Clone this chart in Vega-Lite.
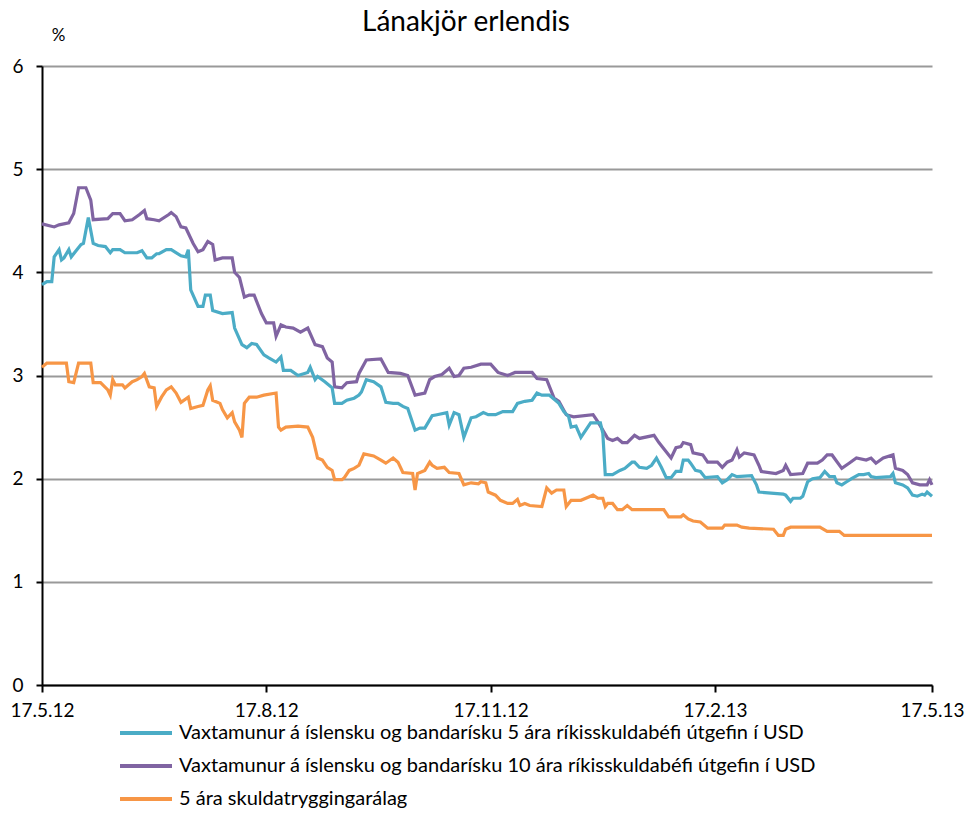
{
"$schema": "https://vega.github.io/schema/vega-lite/v6.json",
"width": 890, "height": 619,
"autosize": {"type": "none"},
"padding": {"left": 42, "top": 66, "right": 39, "bottom": 154},
"background": "white",
"config": {"font": "Lato", "view": {"stroke": null}},
"title": {"text": "Lánakjör erlendis", "fontSize": 28, "font": "Lato", "fontWeight": "normal", "color": "black", "anchor": "middle", "dx": -21, "offset": -11},
"data": {"values": [
{"d":"2012-05-17","s":"p","v":4.47},{"d":"2012-05-22","s":"p","v":4.44},{"d":"2012-05-24","s":"p","v":4.46},{"d":"2012-05-28","s":"p","v":4.48},{"d":"2012-05-30","s":"p","v":4.57},{"d":"2012-06-01","s":"p","v":4.82},{"d":"2012-06-04","s":"p","v":4.82},{"d":"2012-06-06","s":"p","v":4.70},{"d":"2012-06-07","s":"p","v":4.51},{"d":"2012-06-13","s":"p","v":4.52},{"d":"2012-06-15","s":"p","v":4.57},{"d":"2012-06-18","s":"p","v":4.57},{"d":"2012-06-20","s":"p","v":4.50},{"d":"2012-06-23","s":"p","v":4.51},{"d":"2012-06-26","s":"p","v":4.56},{"d":"2012-06-28","s":"p","v":4.60},{"d":"2012-06-29","s":"p","v":4.52},{"d":"2012-07-02","s":"p","v":4.51},{"d":"2012-07-04","s":"p","v":4.50},{"d":"2012-07-08","s":"p","v":4.56},{"d":"2012-07-09","s":"p","v":4.58},{"d":"2012-07-11","s":"p","v":4.54},{"d":"2012-07-13","s":"p","v":4.44},{"d":"2012-07-15","s":"p","v":4.43},{"d":"2012-07-18","s":"p","v":4.28},{"d":"2012-07-20","s":"p","v":4.20},{"d":"2012-07-22","s":"p","v":4.22},{"d":"2012-07-24","s":"p","v":4.30},{"d":"2012-07-26","s":"p","v":4.27},{"d":"2012-07-27","s":"p","v":4.12},{"d":"2012-07-30","s":"p","v":4.14},{"d":"2012-08-03","s":"p","v":4.14},{"d":"2012-08-04","s":"p","v":4.00},{"d":"2012-08-06","s":"p","v":3.95},{"d":"2012-08-08","s":"p","v":3.76},{"d":"2012-08-10","s":"p","v":3.78},{"d":"2012-08-12","s":"p","v":3.78},{"d":"2012-08-15","s":"p","v":3.60},{"d":"2012-08-17","s":"p","v":3.51},{"d":"2012-08-20","s":"p","v":3.51},{"d":"2012-08-21","s":"p","v":3.38},{"d":"2012-08-23","s":"p","v":3.49},{"d":"2012-08-25","s":"p","v":3.47},{"d":"2012-08-28","s":"p","v":3.46},{"d":"2012-08-31","s":"p","v":3.42},{"d":"2012-09-03","s":"p","v":3.46},{"d":"2012-09-06","s":"p","v":3.30},{"d":"2012-09-09","s":"p","v":3.28},{"d":"2012-09-11","s":"p","v":3.17},{"d":"2012-09-13","s":"p","v":3.13},{"d":"2012-09-14","s":"p","v":2.89},{"d":"2012-09-17","s":"p","v":2.88},{"d":"2012-09-19","s":"p","v":2.93},{"d":"2012-09-23","s":"p","v":2.94},{"d":"2012-09-24","s":"p","v":3.02},{"d":"2012-09-27","s":"p","v":3.15},{"d":"2012-10-03","s":"p","v":3.16},{"d":"2012-10-06","s":"p","v":3.03},{"d":"2012-10-11","s":"p","v":3.02},{"d":"2012-10-14","s":"p","v":3.00},{"d":"2012-10-17","s":"p","v":2.81},{"d":"2012-10-21","s":"p","v":2.83},{"d":"2012-10-23","s":"p","v":2.96},{"d":"2012-10-25","s":"p","v":2.99},{"d":"2012-10-28","s":"p","v":3.01},{"d":"2012-10-31","s":"p","v":3.07},{"d":"2012-11-02","s":"p","v":2.99},{"d":"2012-11-04","s":"p","v":3.00},{"d":"2012-11-06","s":"p","v":3.07},{"d":"2012-11-09","s":"p","v":3.08},{"d":"2012-11-13","s":"p","v":3.11},{"d":"2012-11-17","s":"p","v":3.11},{"d":"2012-11-20","s":"p","v":3.03},{"d":"2012-11-24","s":"p","v":3.00},{"d":"2012-11-27","s":"p","v":3.03},{"d":"2012-12-04","s":"p","v":3.03},{"d":"2012-12-06","s":"p","v":2.97},{"d":"2012-12-10","s":"p","v":2.96},{"d":"2012-12-13","s":"p","v":2.78},{"d":"2012-12-15","s":"p","v":2.75},{"d":"2012-12-18","s":"p","v":2.62},{"d":"2012-12-21","s":"p","v":2.60},{"d":"2012-12-29","s":"p","v":2.62},{"d":"2012-12-31","s":"p","v":2.55},{"d":"2013-01-04","s":"p","v":2.39},{"d":"2013-01-06","s":"p","v":2.37},{"d":"2013-01-08","s":"p","v":2.39},{"d":"2013-01-10","s":"p","v":2.35},{"d":"2013-01-12","s":"p","v":2.35},{"d":"2013-01-15","s":"p","v":2.42},{"d":"2013-01-17","s":"p","v":2.39},{"d":"2013-01-23","s":"p","v":2.42},{"d":"2013-01-25","s":"p","v":2.35},{"d":"2013-01-30","s":"p","v":2.20},{"d":"2013-02-01","s":"p","v":2.30},{"d":"2013-02-03","s":"p","v":2.31},{"d":"2013-02-04","s":"p","v":2.35},{"d":"2013-02-07","s":"p","v":2.33},{"d":"2013-02-08","s":"p","v":2.25},{"d":"2013-02-12","s":"p","v":2.23},{"d":"2013-02-14","s":"p","v":2.16},{"d":"2013-02-18","s":"p","v":2.16},{"d":"2013-02-20","s":"p","v":2.11},{"d":"2013-02-22","s":"p","v":2.16},{"d":"2013-02-24","s":"p","v":2.18},{"d":"2013-02-26","s":"p","v":2.28},{"d":"2013-02-27","s":"p","v":2.21},{"d":"2013-03-01","s":"p","v":2.25},{"d":"2013-03-05","s":"p","v":2.23},{"d":"2013-03-07","s":"p","v":2.13},{"d":"2013-03-08","s":"p","v":2.07},{"d":"2013-03-14","s":"p","v":2.05},{"d":"2013-03-17","s":"p","v":2.08},{"d":"2013-03-18","s":"p","v":2.13},{"d":"2013-03-20","s":"p","v":2.04},{"d":"2013-03-25","s":"p","v":2.05},{"d":"2013-03-27","s":"p","v":2.15},{"d":"2013-03-31","s":"p","v":2.15},{"d":"2013-04-02","s":"p","v":2.18},{"d":"2013-04-04","s":"p","v":2.23},{"d":"2013-04-06","s":"p","v":2.23},{"d":"2013-04-10","s":"p","v":2.10},{"d":"2013-04-13","s":"p","v":2.15},{"d":"2013-04-16","s":"p","v":2.20},{"d":"2013-04-20","s":"p","v":2.18},{"d":"2013-04-22","s":"p","v":2.20},{"d":"2013-04-24","s":"p","v":2.15},{"d":"2013-04-27","s":"p","v":2.20},{"d":"2013-05-01","s":"p","v":2.23},{"d":"2013-05-02","s":"p","v":2.10},{"d":"2013-05-05","s":"p","v":2.08},{"d":"2013-05-07","s":"p","v":2.04},{"d":"2013-05-09","s":"p","v":1.96},{"d":"2013-05-12","s":"p","v":1.94},{"d":"2013-05-15","s":"p","v":1.94},{"d":"2013-05-16","s":"p","v":1.99},{"d":"2013-05-17","s":"p","v":1.94},
{"d":"2012-05-17","s":"t","v":3.88},{"d":"2012-05-19","s":"t","v":3.91},{"d":"2012-05-21","s":"t","v":3.91},{"d":"2012-05-22","s":"t","v":4.15},{"d":"2012-05-24","s":"t","v":4.22},{"d":"2012-05-25","s":"t","v":4.12},{"d":"2012-05-26","s":"t","v":4.14},{"d":"2012-05-28","s":"t","v":4.22},{"d":"2012-05-29","s":"t","v":4.15},{"d":"2012-06-02","s":"t","v":4.27},{"d":"2012-06-03","s":"t","v":4.28},{"d":"2012-06-05","s":"t","v":4.53},{"d":"2012-06-07","s":"t","v":4.28},{"d":"2012-06-09","s":"t","v":4.26},{"d":"2012-06-12","s":"t","v":4.25},{"d":"2012-06-14","s":"t","v":4.19},{"d":"2012-06-15","s":"t","v":4.22},{"d":"2012-06-18","s":"t","v":4.22},{"d":"2012-06-20","s":"t","v":4.19},{"d":"2012-06-25","s":"t","v":4.19},{"d":"2012-06-27","s":"t","v":4.21},{"d":"2012-06-29","s":"t","v":4.14},{"d":"2012-07-01","s":"t","v":4.14},{"d":"2012-07-03","s":"t","v":4.18},{"d":"2012-07-04","s":"t","v":4.18},{"d":"2012-07-07","s":"t","v":4.22},{"d":"2012-07-09","s":"t","v":4.22},{"d":"2012-07-13","s":"t","v":4.16},{"d":"2012-07-15","s":"t","v":4.15},{"d":"2012-07-16","s":"t","v":4.22},{"d":"2012-07-17","s":"t","v":3.83},{"d":"2012-07-20","s":"t","v":3.67},{"d":"2012-07-22","s":"t","v":3.67},{"d":"2012-07-23","s":"t","v":3.78},{"d":"2012-07-25","s":"t","v":3.78},{"d":"2012-07-26","s":"t","v":3.63},{"d":"2012-07-30","s":"t","v":3.60},{"d":"2012-08-03","s":"t","v":3.61},{"d":"2012-08-04","s":"t","v":3.46},{"d":"2012-08-07","s":"t","v":3.30},{"d":"2012-08-09","s":"t","v":3.27},{"d":"2012-08-11","s":"t","v":3.31},{"d":"2012-08-13","s":"t","v":3.30},{"d":"2012-08-16","s":"t","v":3.20},{"d":"2012-08-18","s":"t","v":3.17},{"d":"2012-08-21","s":"t","v":3.13},{"d":"2012-08-23","s":"t","v":3.18},{"d":"2012-08-24","s":"t","v":3.05},{"d":"2012-08-27","s":"t","v":3.05},{"d":"2012-08-30","s":"t","v":3.00},{"d":"2012-09-03","s":"t","v":3.03},{"d":"2012-09-04","s":"t","v":3.08},{"d":"2012-09-06","s":"t","v":2.96},{"d":"2012-09-07","s":"t","v":2.99},{"d":"2012-09-10","s":"t","v":2.94},{"d":"2012-09-13","s":"t","v":2.88},{"d":"2012-09-14","s":"t","v":2.73},{"d":"2012-09-17","s":"t","v":2.73},{"d":"2012-09-19","s":"t","v":2.76},{"d":"2012-09-22","s":"t","v":2.78},{"d":"2012-09-24","s":"t","v":2.81},{"d":"2012-09-25","s":"t","v":2.84},{"d":"2012-09-27","s":"t","v":2.96},{"d":"2012-09-30","s":"t","v":2.94},{"d":"2012-10-03","s":"t","v":2.89},{"d":"2012-10-05","s":"t","v":2.74},{"d":"2012-10-08","s":"t","v":2.73},{"d":"2012-10-10","s":"t","v":2.73},{"d":"2012-10-12","s":"t","v":2.70},{"d":"2012-10-14","s":"t","v":2.68},{"d":"2012-10-17","s":"t","v":2.47},{"d":"2012-10-19","s":"t","v":2.49},{"d":"2012-10-21","s":"t","v":2.49},{"d":"2012-10-23","s":"t","v":2.57},{"d":"2012-10-24","s":"t","v":2.61},{"d":"2012-10-26","s":"t","v":2.62},{"d":"2012-10-30","s":"t","v":2.64},{"d":"2012-10-31","s":"t","v":2.52},{"d":"2012-11-02","s":"t","v":2.64},{"d":"2012-11-04","s":"t","v":2.62},{"d":"2012-11-06","s":"t","v":2.40},{"d":"2012-11-09","s":"t","v":2.59},{"d":"2012-11-11","s":"t","v":2.60},{"d":"2012-11-14","s":"t","v":2.64},{"d":"2012-11-16","s":"t","v":2.62},{"d":"2012-11-19","s":"t","v":2.62},{"d":"2012-11-22","s":"t","v":2.65},{"d":"2012-11-26","s":"t","v":2.65},{"d":"2012-11-28","s":"t","v":2.73},{"d":"2012-12-01","s":"t","v":2.75},{"d":"2012-12-04","s":"t","v":2.76},{"d":"2012-12-06","s":"t","v":2.83},{"d":"2012-12-08","s":"t","v":2.81},{"d":"2012-12-11","s":"t","v":2.81},{"d":"2012-12-15","s":"t","v":2.73},{"d":"2012-12-17","s":"t","v":2.65},{"d":"2012-12-19","s":"t","v":2.60},{"d":"2012-12-20","s":"t","v":2.50},{"d":"2012-12-22","s":"t","v":2.51},{"d":"2012-12-24","s":"t","v":2.40},{"d":"2012-12-26","s":"t","v":2.47},{"d":"2012-12-28","s":"t","v":2.54},{"d":"2013-01-01","s":"t","v":2.54},{"d":"2013-01-02","s":"t","v":2.44},{"d":"2013-01-03","s":"t","v":2.04},{"d":"2013-01-06","s":"t","v":2.04},{"d":"2013-01-09","s":"t","v":2.08},{"d":"2013-01-11","s":"t","v":2.10},{"d":"2013-01-14","s":"t","v":2.16},{"d":"2013-01-15","s":"t","v":2.16},{"d":"2013-01-17","s":"t","v":2.11},{"d":"2013-01-20","s":"t","v":2.10},{"d":"2013-01-22","s":"t","v":2.13},{"d":"2013-01-24","s":"t","v":2.20},{"d":"2013-01-26","s":"t","v":2.11},{"d":"2013-01-28","s":"t","v":2.01},{"d":"2013-01-30","s":"t","v":2.01},{"d":"2013-02-01","s":"t","v":2.07},{"d":"2013-02-03","s":"t","v":2.07},{"d":"2013-02-04","s":"t","v":2.18},{"d":"2013-02-06","s":"t","v":2.18},{"d":"2013-02-07","s":"t","v":2.15},{"d":"2013-02-09","s":"t","v":2.08},{"d":"2013-02-11","s":"t","v":2.07},{"d":"2013-02-13","s":"t","v":2.01},{"d":"2013-02-18","s":"t","v":2.02},{"d":"2013-02-20","s":"t","v":1.96},{"d":"2013-02-22","s":"t","v":1.99},{"d":"2013-02-24","s":"t","v":2.04},{"d":"2013-02-26","s":"t","v":2.02},{"d":"2013-03-04","s":"t","v":2.03},{"d":"2013-03-06","s":"t","v":1.94},{"d":"2013-03-07","s":"t","v":1.87},{"d":"2013-03-12","s":"t","v":1.86},{"d":"2013-03-17","s":"t","v":1.85},{"d":"2013-03-18","s":"t","v":1.84},{"d":"2013-03-20","s":"t","v":1.78},{"d":"2013-03-21","s":"t","v":1.81},{"d":"2013-03-24","s":"t","v":1.81},{"d":"2013-03-25","s":"t","v":1.83},{"d":"2013-03-27","s":"t","v":1.97},{"d":"2013-03-29","s":"t","v":2.00},{"d":"2013-04-01","s":"t","v":2.01},{"d":"2013-04-03","s":"t","v":2.07},{"d":"2013-04-05","s":"t","v":2.02},{"d":"2013-04-07","s":"t","v":2.02},{"d":"2013-04-08","s":"t","v":1.96},{"d":"2013-04-10","s":"t","v":1.94},{"d":"2013-04-12","s":"t","v":1.97},{"d":"2013-04-14","s":"t","v":2.00},{"d":"2013-04-17","s":"t","v":2.04},{"d":"2013-04-19","s":"t","v":2.04},{"d":"2013-04-21","s":"t","v":2.05},{"d":"2013-04-22","s":"t","v":2.02},{"d":"2013-04-24","s":"t","v":2.01},{"d":"2013-04-30","s":"t","v":2.02},{"d":"2013-05-01","s":"t","v":2.05},{"d":"2013-05-02","s":"t","v":1.96},{"d":"2013-05-05","s":"t","v":1.94},{"d":"2013-05-07","s":"t","v":1.91},{"d":"2013-05-09","s":"t","v":1.84},{"d":"2013-05-11","s":"t","v":1.83},{"d":"2013-05-13","s":"t","v":1.85},{"d":"2013-05-14","s":"t","v":1.84},{"d":"2013-05-15","s":"t","v":1.87},{"d":"2013-05-17","s":"t","v":1.83},
{"d":"2012-05-17","s":"o","v":3.08},{"d":"2012-05-19","s":"o","v":3.12},{"d":"2012-05-27","s":"o","v":3.12},{"d":"2012-05-28","s":"o","v":2.94},{"d":"2012-05-30","s":"o","v":2.93},{"d":"2012-06-01","s":"o","v":3.12},{"d":"2012-06-06","s":"o","v":3.12},{"d":"2012-06-07","s":"o","v":2.93},{"d":"2012-06-10","s":"o","v":2.93},{"d":"2012-06-13","s":"o","v":2.86},{"d":"2012-06-14","s":"o","v":2.81},{"d":"2012-06-15","s":"o","v":2.96},{"d":"2012-06-16","s":"o","v":2.91},{"d":"2012-06-19","s":"o","v":2.91},{"d":"2012-06-20","s":"o","v":2.88},{"d":"2012-06-23","s":"o","v":2.94},{"d":"2012-06-25","s":"o","v":2.96},{"d":"2012-06-27","s":"o","v":2.99},{"d":"2012-06-28","s":"o","v":3.02},{"d":"2012-06-30","s":"o","v":2.89},{"d":"2012-07-02","s":"o","v":2.88},{"d":"2012-07-03","s":"o","v":2.70},{"d":"2012-07-05","s":"o","v":2.79},{"d":"2012-07-07","s":"o","v":2.86},{"d":"2012-07-09","s":"o","v":2.89},{"d":"2012-07-11","s":"o","v":2.83},{"d":"2012-07-13","s":"o","v":2.74},{"d":"2012-07-16","s":"o","v":2.79},{"d":"2012-07-17","s":"o","v":2.68},{"d":"2012-07-20","s":"o","v":2.70},{"d":"2012-07-22","s":"o","v":2.71},{"d":"2012-07-24","s":"o","v":2.86},{"d":"2012-07-25","s":"o","v":2.90},{"d":"2012-07-26","s":"o","v":2.76},{"d":"2012-07-29","s":"o","v":2.73},{"d":"2012-07-30","s":"o","v":2.67},{"d":"2012-08-01","s":"o","v":2.59},{"d":"2012-08-03","s":"o","v":2.64},{"d":"2012-08-04","s":"o","v":2.55},{"d":"2012-08-06","s":"o","v":2.47},{"d":"2012-08-07","s":"o","v":2.40},{"d":"2012-08-08","s":"o","v":2.73},{"d":"2012-08-10","s":"o","v":2.79},{"d":"2012-08-13","s":"o","v":2.79},{"d":"2012-08-16","s":"o","v":2.81},{"d":"2012-08-21","s":"o","v":2.83},{"d":"2012-08-22","s":"o","v":2.50},{"d":"2012-08-23","s":"o","v":2.47},{"d":"2012-08-25","s":"o","v":2.50},{"d":"2012-08-30","s":"o","v":2.51},{"d":"2012-09-03","s":"o","v":2.50},{"d":"2012-09-05","s":"o","v":2.40},{"d":"2012-09-07","s":"o","v":2.20},{"d":"2012-09-09","s":"o","v":2.18},{"d":"2012-09-11","s":"o","v":2.11},{"d":"2012-09-13","s":"o","v":2.08},{"d":"2012-09-14","s":"o","v":1.99},{"d":"2012-09-17","s":"o","v":1.99},{"d":"2012-09-18","s":"o","v":2.01},{"d":"2012-09-20","s":"o","v":2.08},{"d":"2012-09-22","s":"o","v":2.10},{"d":"2012-09-24","s":"o","v":2.13},{"d":"2012-09-26","s":"o","v":2.24},{"d":"2012-09-30","s":"o","v":2.22},{"d":"2012-10-03","s":"o","v":2.18},{"d":"2012-10-05","s":"o","v":2.15},{"d":"2012-10-08","s":"o","v":2.20},{"d":"2012-10-10","s":"o","v":2.16},{"d":"2012-10-12","s":"o","v":2.06},{"d":"2012-10-16","s":"o","v":2.05},{"d":"2012-10-17","s":"o","v":1.89},{"d":"2012-10-18","s":"o","v":2.05},{"d":"2012-10-20","s":"o","v":2.07},{"d":"2012-10-21","s":"o","v":2.08},{"d":"2012-10-23","s":"o","v":2.16},{"d":"2012-10-24","s":"o","v":2.13},{"d":"2012-10-26","s":"o","v":2.10},{"d":"2012-10-29","s":"o","v":2.11},{"d":"2012-10-31","s":"o","v":2.06},{"d":"2012-11-04","s":"o","v":2.05},{"d":"2012-11-06","s":"o","v":1.94},{"d":"2012-11-09","s":"o","v":1.96},{"d":"2012-11-12","s":"o","v":1.95},{"d":"2012-11-13","s":"o","v":1.97},{"d":"2012-11-15","s":"o","v":1.96},{"d":"2012-11-16","s":"o","v":1.87},{"d":"2012-11-19","s":"o","v":1.84},{"d":"2012-11-21","s":"o","v":1.79},{"d":"2012-11-24","s":"o","v":1.76},{"d":"2012-11-26","s":"o","v":1.76},{"d":"2012-11-28","s":"o","v":1.80},{"d":"2012-11-29","s":"o","v":1.74},{"d":"2012-12-01","s":"o","v":1.76},{"d":"2012-12-03","s":"o","v":1.74},{"d":"2012-12-08","s":"o","v":1.73},{"d":"2012-12-10","s":"o","v":1.91},{"d":"2012-12-12","s":"o","v":1.86},{"d":"2012-12-14","s":"o","v":1.89},{"d":"2012-12-17","s":"o","v":1.89},{"d":"2012-12-18","s":"o","v":1.73},{"d":"2012-12-20","s":"o","v":1.79},{"d":"2012-12-24","s":"o","v":1.79},{"d":"2012-12-27","s":"o","v":1.82},{"d":"2012-12-29","s":"o","v":1.84},{"d":"2012-12-31","s":"o","v":1.81},{"d":"2013-01-02","s":"o","v":1.81},{"d":"2013-01-03","s":"o","v":1.73},{"d":"2013-01-04","s":"o","v":1.76},{"d":"2013-01-06","s":"o","v":1.76},{"d":"2013-01-08","s":"o","v":1.70},{"d":"2013-01-10","s":"o","v":1.70},{"d":"2013-01-12","s":"o","v":1.74},{"d":"2013-01-14","s":"o","v":1.70},{"d":"2013-01-27","s":"o","v":1.70},{"d":"2013-01-29","s":"o","v":1.63},{"d":"2013-02-03","s":"o","v":1.63},{"d":"2013-02-04","s":"o","v":1.65},{"d":"2013-02-06","s":"o","v":1.61},{"d":"2013-02-08","s":"o","v":1.59},{"d":"2013-02-11","s":"o","v":1.58},{"d":"2013-02-14","s":"o","v":1.52},{"d":"2013-02-20","s":"o","v":1.52},{"d":"2013-02-21","s":"o","v":1.55},{"d":"2013-02-26","s":"o","v":1.55},{"d":"2013-02-28","s":"o","v":1.53},{"d":"2013-03-03","s":"o","v":1.52},{"d":"2013-03-13","s":"o","v":1.51},{"d":"2013-03-15","s":"o","v":1.45},{"d":"2013-03-17","s":"o","v":1.45},{"d":"2013-03-18","s":"o","v":1.51},{"d":"2013-03-20","s":"o","v":1.53},{"d":"2013-04-01","s":"o","v":1.53},{"d":"2013-04-04","s":"o","v":1.49},{"d":"2013-04-09","s":"o","v":1.49},{"d":"2013-04-11","s":"o","v":1.45},{"d":"2013-05-17","s":"o","v":1.45}
]},
"mark": {"type": "line", "strokeWidth": 3.2},
"encoding": {
  "x": {"field": "d", "type": "temporal",
    "scale": {"type": "utc", "domain": [{"year": 2012, "month": 5, "date": 17, "utc": true}, {"year": 2013, "month": 5, "date": 17, "utc": true}]},
    "axis": {"values": [{"year": 2012, "month": 5, "date": 17, "utc": true}, {"year": 2012, "month": 8, "date": 17, "utc": true}, {"year": 2012, "month": 11, "date": 17, "utc": true}, {"year": 2013, "month": 2, "date": 17, "utc": true}, {"year": 2013, "month": 5, "date": 17, "utc": true}],
      "labelExpr": "utcFormat(datum.value, '%-d.%-m.%y')", "title": null, "grid": false, "domainColor": "black", "domainWidth": 2, "tickColor": "black", "tickWidth": 2, "tickSize": 7, "labelFontSize": 19, "labelColor": "black", "labelPadding": 9, "labelFlush": false, "labelOverlap": false, "labelBound": false}},
  "y": {"field": "v", "type": "quantitative",
    "scale": {"domain": [0, 6], "nice": false, "zero": true},
    "axis": {"values": [0, 1, 2, 3, 4, 5, 6], "title": "%", "titleAngle": 0, "titleX": 16, "titleY": -31, "titleAlign": "center", "titleBaseline": "middle", "titleFontSize": 17, "titleFontWeight": "normal", "titleColor": "black",
      "grid": true, "gridColor": "#999999", "gridWidth": 2, "domainColor": "black", "domainWidth": 2, "tickColor": "black", "tickWidth": 2, "tickSize": 6, "labelFontSize": 19, "labelColor": "black", "labelPadding": 13}},
  "color": {"field": "s", "type": "nominal",
    "scale": {"domain": ["t", "p", "o"], "range": ["#4BACC6", "#8064A2", "#F79646"]},
    "legend": {"orient": "none", "legendX": 76, "legendY": 657, "direction": "vertical", "title": null, "symbolType": "stroke", "symbolSize": 2704, "symbolStrokeWidth": 4, "clipHeight": 20, "labelFontSize": 20, "labelColor": "black", "labelLimit": 0, "labelOffset": 5, "rowPadding": 13,
      "labelExpr": "datum.value == 't' ? 'Vaxtamunur á íslensku og bandarísku 5 ára ríkisskuldabéfi útgefin í USD' : datum.value == 'p' ? 'Vaxtamunur á íslensku og bandarísku 10 ára ríkisskuldabéfi útgefin í USD' : '5 ára skuldatryggingarálag'"}}
}
}
